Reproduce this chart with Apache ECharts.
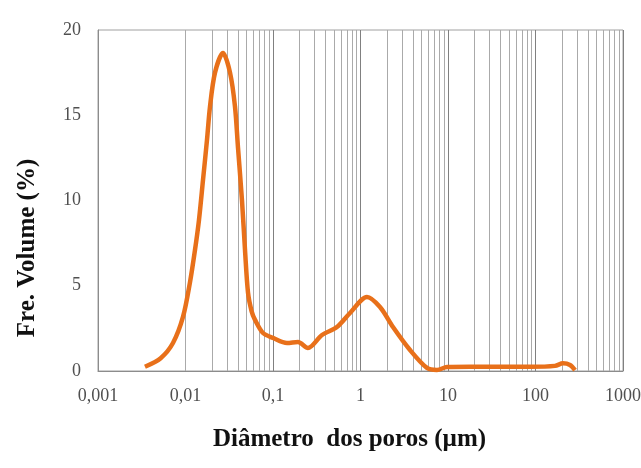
<!DOCTYPE html>
<html>
<head>
<meta charset="utf-8">
<script src="https://cdn.jsdelivr.net/npm/echarts@6/dist/echarts.min.js"></script>
<style>html,body{margin:0;padding:0;background:#fff}#c{width:641px;height:468px}</style>
</head>
<body>
<div id="c"></div>
<script>
// Pore diameter (µm) and frequency volume (%)
var diameter = [0.00344, 0.0052, 0.00719, 0.00936, 0.01125, 0.01284, 0.01426, 0.01585, 0.0176, 0.01905, 0.02173, 0.02683, 0.03227, 0.03679, 0.03981, 0.04422, 0.04786, 0.05179, 0.057, 0.0623, 0.0769, 0.1, 0.1445, 0.193, 0.251, 0.363, 0.538, 0.759, 1.186, 1.67, 2.35, 3.68, 5.75, 7.48, 9.75, 17.8, 39.3, 86.5, 167, 206, 248, 283];
var volume   = [0.25,    0.75,   1.64,    3.17,    5.2,     7.1,     8.86,    11.2,    13.55,  15.5,    17.5,    18.65,   17.5,    15.5,    13.1,    10.0,    7.1,     4.6,     3.5,   3.0,    2.23,   1.94, 1.64,   1.7,   1.35,  2.11,  2.58,  3.4,   4.34,  3.75, 2.58, 1.23, 0.18, 0.06, 0.23, 0.25, 0.25, 0.25, 0.3, 0.45, 0.35, 0.05];
var xTickLabels = {'-3': '0,001', '-2': '0,01', '-1': '0,1', '0': '1', '1': '10', '2': '100', '3': '1000'};
var yTicks = [0, 5, 10, 15, 20];

// minor log gridlines (2..9 in each decade)
var minorLines = [];
for (var e = -3; e < 3; e++) {
  for (var m = 2; m <= 9; m++) {
    minorLines.push({ xAxis: m * Math.pow(10, e) });
  }
}

var pts = diameter.map(function (d, i) { return [d, volume[i]]; });

var chart = echarts.init(document.getElementById('c'), null, { renderer: 'canvas' });
chart.setOption({
  animation: false,
  backgroundColor: '#fff',
  grid: { left: 98, right: 18, top: 30, bottom: 97, show: true, borderColor: '#a0a0a0', borderWidth: 1, containLabel: false, outerBoundsMode: 'none' },
  xAxis: {
    type: 'log', logBase: 10, min: 0.001, max: 1000,
    name: 'Diâmetro  dos poros (µm)', nameLocation: 'middle', nameGap: 56,
    nameTextStyle: { fontFamily: 'Liberation Serif', fontWeight: 'bold', fontSize: 25, color: '#111', padding: [0, 22, 0, 0] },
    axisLine: { lineStyle: { color: '#8c8c8c', width: 1 } },
    axisTick: { show: false },
    axisLabel: {
      fontFamily: 'Liberation Serif', fontSize: 18, color: '#505050', margin: 16,
      formatter: function (v) { var k = String(Math.round(Math.log10(v))); return xTickLabels[k] || ''; }
    },
    splitLine: { show: true, lineStyle: { color: '#808080', width: 1 } }
  },
  yAxis: {
    type: 'value', min: 0, max: 20, interval: 5,
    name: 'Fre. Volume (%)', nameLocation: 'middle', nameGap: 58,
    nameTextStyle: { fontFamily: 'Liberation Serif', fontWeight: 'bold', fontSize: 25, color: '#111', padding: [0, 95, 0, 0] },
    axisLine: { show: true, lineStyle: { color: '#8c8c8c', width: 1 } },
    axisTick: { show: false },
    axisLabel: { fontFamily: 'Liberation Serif', fontSize: 18, color: '#505050', margin: 17 },
    splitLine: { show: false }
  },
  series: [
    {
      type: 'line', data: [], silent: true, z: 1,
      markLine: {
        silent: true, symbol: 'none', animation: false,
        label: { show: false },
        lineStyle: { color: '#aaaaaa', width: 1, type: 'solid' },
        data: minorLines
      }
    },
    {
      type: 'line', data: pts, smooth: 0.3, showSymbol: false, z: 5,
      lineStyle: { color: '#E8701A', width: 4.5 },
      itemStyle: { color: '#E8701A' }
    }
  ]
});
</script>
</body>
</html>
